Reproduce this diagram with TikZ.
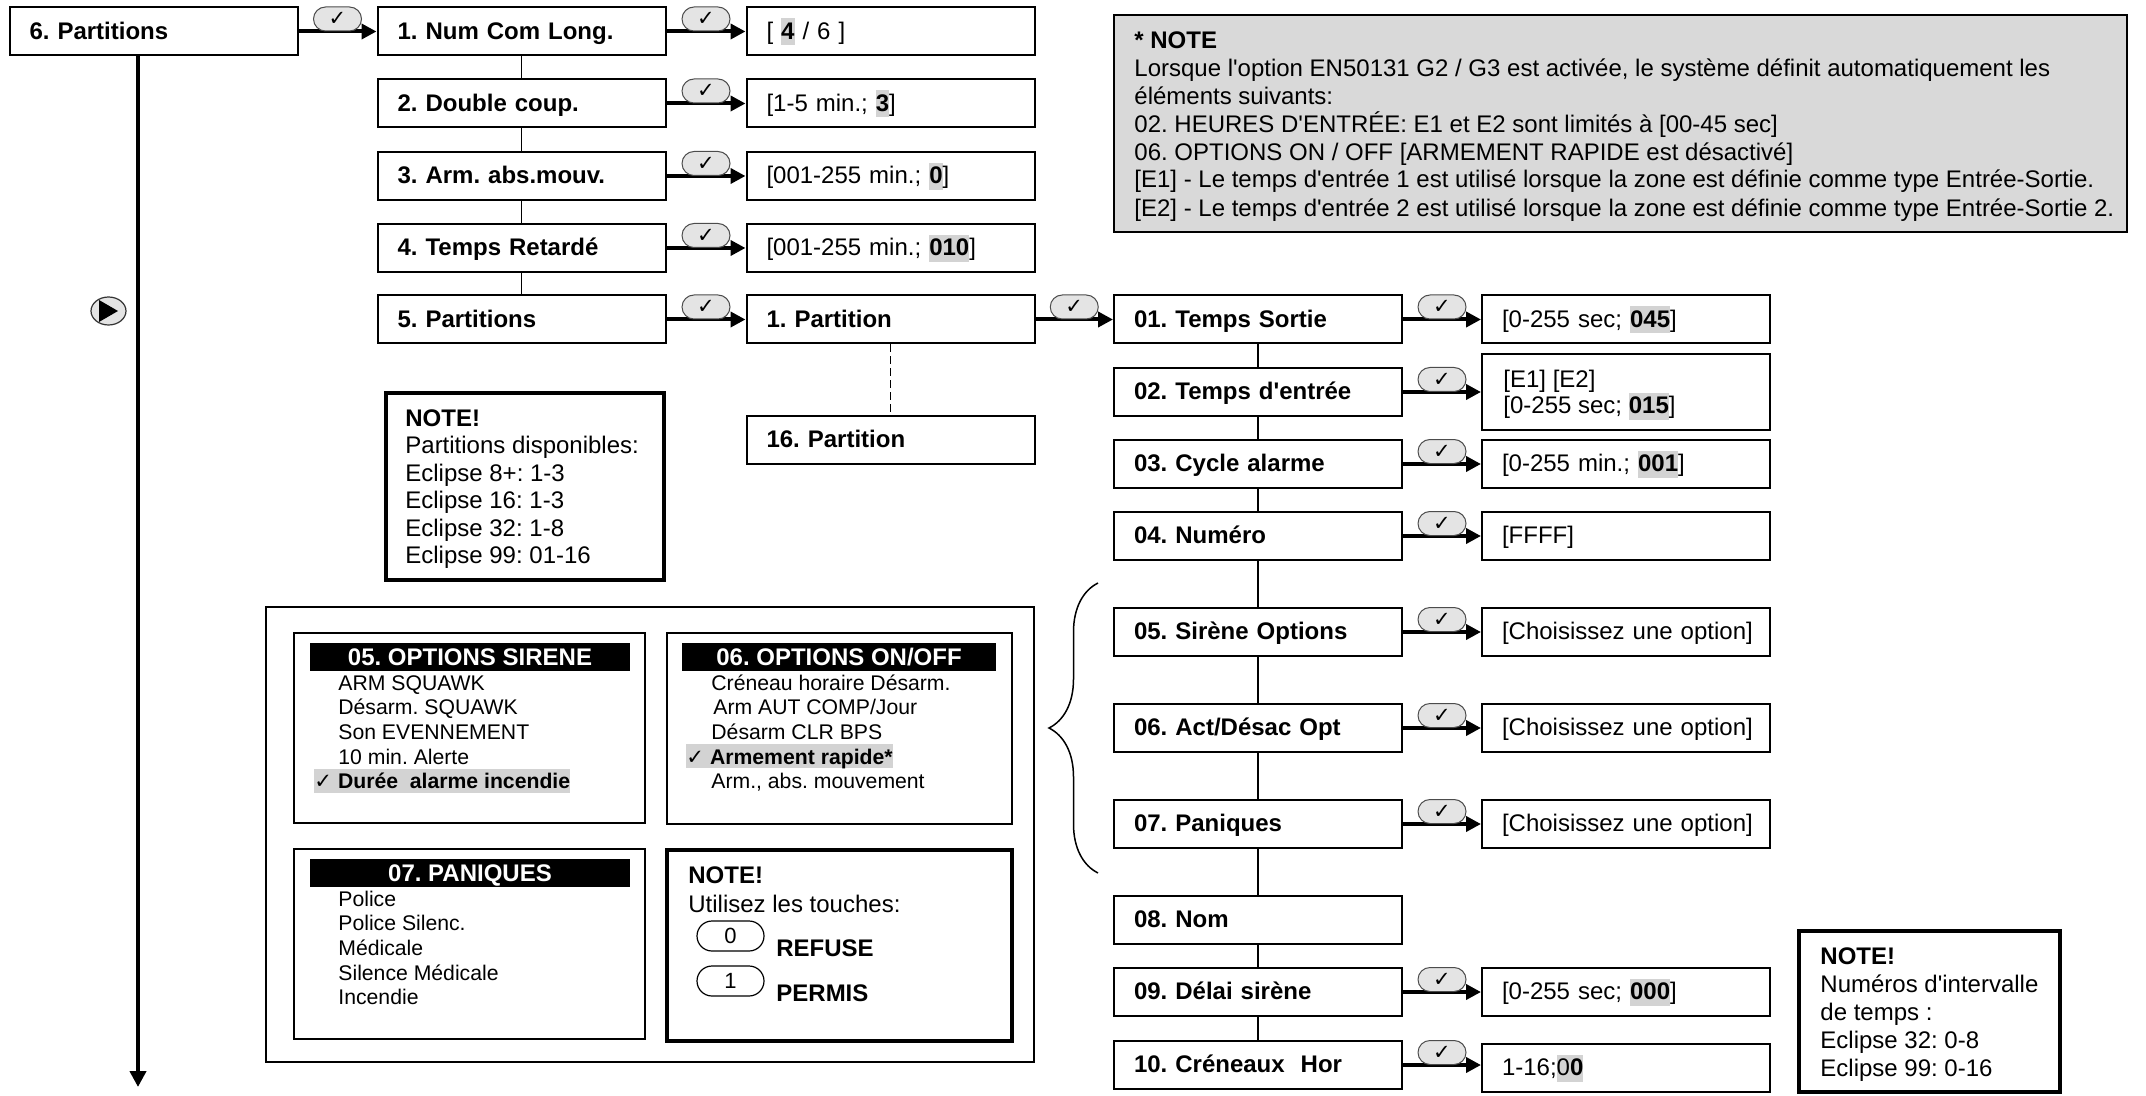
\documentclass[tikz,border=0pt]{standalone}
\usepackage{fontspec}
\setmainfont{Liberation Sans}
\newfontfamily\symfont{DejaVu Sans}
\usetikzlibrary{arrows.meta,shapes.geometric,decorations.pathreplacing}
\definecolor{hlgray}{HTML}{D3D3D3}
\definecolor{notegray}{HTML}{D9D9D9}
\definecolor{pill}{HTML}{E4E4E4}
\frenchspacing
\newcommand\txtL{\fontsize{12}{13.8}\selectfont}
\newcommand\txtS{\fontsize{10.6}{12.3}\selectfont}
\newcommand\chk{{\symfont ✓}}
\newcommand\apo{\textquotesingle}
\newcommand\hl[1]{{\setlength{\fboxsep}{0pt}\colorbox{hlgray}{\rule[-3pt]{0pt}{13.5pt}#1}}}
\tikzset{
  menu/.style={draw,line width=1pt,minimum width=144pt,minimum height=24pt,text width=124pt,inner xsep=10pt,inner ysep=0pt,align=left,text height=10pt,text depth=2.2pt,font=\txtL\bfseries},
  valbox/.style={menu,font=\txtL},
  okpill/.style={draw=black!70,line width=.5pt,fill=pill,rounded corners=6pt,minimum width=24pt,minimum height=12pt,inner sep=0pt,font=\fontsize{10.5}{10.5}\selectfont},
  okar/.style={draw,line width=2pt,-{Triangle[length=7.5pt,width=7.5pt]}},
  mainar/.style={draw,line width=2pt,-{Triangle[length=8pt,width=8pt]}},
  vline/.style={draw,line width=.75pt},
  dline/.style={vline,dash pattern=on 4pt off 2pt},
  panel/.style={draw,line width=1pt,inner sep=0pt},
  notebox/.style={draw,line width=2pt,inner sep=0pt},
  hbar/.style={fill=black,text=white,font=\txtL\bfseries,minimum width=160pt,minimum height=14pt,inner sep=0pt,text height=9pt,text depth=1pt},
  item/.style={anchor=base west,inner sep=0pt,font=\txtS},
  hlitem/.style={item,fill=hlgray,text height=10pt,text depth=2pt},
  ntxt/.style={anchor=base west,inner sep=0pt,font=\txtL},
  keycap/.style={draw,line width=.6pt,rounded corners=7.5pt,minimum width=33.5pt,minimum height=15pt,inner sep=0pt,font=\fontsize{11}{11}\selectfont},
  playbtn/.style={ellipse,draw=black!80,line width=.6pt,fill=pill,minimum width=17.5pt,minimum height=14pt,inner sep=0pt},
  brc/.style={decorate,decoration={brace,amplitude=24.5pt},line width=.75pt},
}
\begin{document}
\begin{tikzpicture}[x=0.5pt,y=-0.5pt]
\useasboundingbox (0,0) rectangle (2146,1096);
% first level
\node[menu] (a6) at (153.5,31.5) {6. Partitions};
\node[menu] (b1) at (521.5,31.5) {1. Num Com Long.};
\node[menu] (b2) at (521.5,103.5) {2. Double coup.};
\node[menu] (b3) at (521.5,176) {3. Arm. abs.mouv.};
\node[menu] (b4) at (521.5,248) {4. Temps Retardé};
\node[menu] (b5) at (521.5,319.5) {5. Partitions};
\node[valbox] (c1) at (890.5,31.5) {[ \hl{\textbf{4}} / 6 ]};
\node[valbox] (c2) at (890.5,103.5) {[1-5 min.; \hl{\textbf{3}}]};
\node[valbox] (c3) at (890.5,176) {[001-255 min.; \hl{\textbf{0}}]};
\node[valbox] (c4) at (890.5,248) {[001-255 min.; \hl{\textbf{010}}]};
\node[menu] (c5) at (890.5,319.5) {1. Partition};
\node[menu] (c16) at (890.5,440) {16. Partition};
% partition menu
\node[menu] (d01) at (1258,319.5) {01. Temps Sortie};
\node[menu] (d02) at (1258,392) {02. Temps d\apo entrée};
\node[menu] (d03) at (1258,464) {03. Cycle alarme};
\node[menu] (d04) at (1258,536) {04. Numéro};
\node[menu] (d05) at (1258,632) {05. Sirène Options};
\node[menu] (d06) at (1258,728) {06. Act/Désac Opt};
\node[menu] (d07) at (1258,824) {07. Paniques};
\node[menu] (d08) at (1258,920) {08. Nom};
\node[menu] (d09) at (1258,992) {09. Délai sirène};
\node[menu] (d10) at (1258,1065) {10. Créneaux\ \ Hor};
\node[valbox] (e01) at (1626,319.5) {[0-255 sec; \hl{\textbf{045}}]};
\node[valbox,minimum height=38pt] (e02) at (1626,392) {};
\node[ntxt] (e02a) at (1503,387) {[E1] [E2]};
\node[ntxt] (e02b) at (1503,414) {[0-255 sec; \hl{\textbf{015}}]};
\node[valbox] (e03) at (1626,464) {[0-255 min.; \hl{\textbf{001}}]};
\node[valbox] (e04) at (1626,536) {[FFFF]};
\node[valbox] (e05) at (1626,632) {\mbox{[Choisissez une option]}};
\node[valbox] (e06) at (1626,728) {\mbox{[Choisissez une option]}};
\node[valbox] (e07) at (1626,824) {\mbox{[Choisissez une option]}};
\node[valbox] (e09) at (1626,992) {[0-255 sec; \hl{\textbf{000}}]};
\node[valbox] (e10) at (1626,1068) {1-16;\hl{0\textbf{0}}};
% enter arrows
\draw[okar] (a6) -- node[okpill,above] (k0) {\chk} (b1);
\draw[okar] (b1) -- node[okpill,above] (k1) {\chk} (c1);
\draw[okar] (b2) -- node[okpill,above] (k2) {\chk} (c2);
\draw[okar] (b3) -- node[okpill,above] (k3) {\chk} (c3);
\draw[okar] (b4) -- node[okpill,above] (k4) {\chk} (c4);
\draw[okar] (b5) -- node[okpill,above] (k5) {\chk} (c5);
\draw[okar] (c5) -- node[okpill,above] (k6) {\chk} (d01);
\draw[okar] (d01) -- node[okpill,above] (k7) {\chk} (e01);
\draw[okar] (d02) -- node[okpill,above] (k8) {\chk} (e02);
\draw[okar] (d03) -- node[okpill,above] (k9) {\chk} (e03);
\draw[okar] (d04) -- node[okpill,above] (k10) {\chk} (e04);
\draw[okar] (d05) -- node[okpill,above] (k11) {\chk} (e05);
\draw[okar] (d06) -- node[okpill,above] (k12) {\chk} (e06);
\draw[okar] (d07) -- node[okpill,above] (k13) {\chk} (e07);
\draw[okar] (d09) -- node[okpill,above] (k14) {\chk} (e09);
\draw[okar] (d10.east) -- node[okpill,above] (k15) {\chk} (d10.east -| e10.west);
% menu links
\draw[vline] (b1) -- (b2); \draw[vline] (b2) -- (b3); \draw[vline] (b3) -- (b4); \draw[vline] (b4) -- (b5);
\draw[dline] (c5) -- (c16);
\draw[vline] (d01) -- (d02); \draw[vline] (d02) -- (d03); \draw[vline] (d03) -- (d04); \draw[vline] (d04) -- (d05);
\draw[vline] (d05) -- (d06); \draw[vline] (d06) -- (d07); \draw[vline] (d07) -- (d08); \draw[vline] (d08) -- (d09);
\draw[vline] (d09) -- (d10);
% scroll arrow
\coordinate (down) at (138,1087);
\draw[mainar] (a6.south -| down) -- (down);
\node[playbtn] (play) at (108.5,311) {};
\fill (play.center) ++(-9.5,-11) -- ++(19,11) -- ++(-19,11) -- cycle;
\draw[brc] (1098,873) -- (1098,583);
% notes
\node[draw,line width=1.2pt,fill=notegray,minimum width=506.5pt,minimum height=108.5pt,inner sep=0pt] (note2) at (1620.5,123.5) {};
\node[ntxt] (n2a) at (1134,49) {\textbf{* NOTE}};
\node[ntxt] (n2b) at (1134,77) {Lorsque l\apo option EN50131 G2 / G3 est activée, le système définit automatiquement les};
\node[ntxt] (n2c) at (1134,105) {éléments suivants:};
\node[ntxt] (n2d) at (1134,133) {02. HEURES D\apo ENTRÉE: E1 et E2 sont limités à [00-45 sec]};
\node[ntxt] (n2e) at (1134,161) {06. OPTIONS ON / OFF [ARMEMENT RAPIDE est désactivé]};
\node[ntxt] (n2f) at (1134,188) {[E1] - Le temps d\apo entrée 1 est utilisé lorsque la zone est définie comme type Entrée-Sortie.};
\node[ntxt] (n2g) at (1134,217) {[E2] - Le temps d\apo entrée 2 est utilisé lorsque la zone est définie comme type Entrée-Sortie 2.};
\node[notebox,minimum width=139pt,minimum height=93.5pt] (note1) at (525,486.5) {};
\node[ntxt] (n1a) at (405,426) {\textbf{NOTE!}};
\node[ntxt] (n1b) at (405,453.5) {Partitions disponibles:};
\node[ntxt] (n1c) at (405,481) {Eclipse 8+: 1-3};
\node[ntxt] (n1d) at (405,508.5) {Eclipse 16: 1-3};
\node[ntxt] (n1e) at (405,536) {Eclipse 32: 1-8};
\node[ntxt] (n1f) at (405,563.5) {Eclipse 99: 01-16};
\node[notebox,minimum width=130.5pt,minimum height=80.5pt] (note3) at (1929.5,1011.5) {};
\node[ntxt] (n3a) at (1820,964) {\textbf{NOTE!}};
\node[ntxt] (n3b) at (1820,992) {Numéros d\apo intervalle};
\node[ntxt] (n3c) at (1820,1020) {de temps :};
\node[ntxt] (n3d) at (1820,1048) {Eclipse 32: 0-8};
\node[ntxt] (n3e) at (1820,1076) {Eclipse 99: 0-16};
% option panels
\node[panel,minimum width=384pt,minimum height=227.5pt] (pbox) at (650,834.5) {};
\node[panel,minimum width=175.5pt,minimum height=95pt] (p05) at (469.5,728) {};
\node[panel,minimum width=172.5pt,minimum height=95.5pt] (p06) at (839.5,728.5) {};
\node[panel,minimum width=175.5pt,minimum height=95pt] (p07) at (469.5,944) {};
\node[notebox,minimum width=172.5pt,minimum height=95.5pt] (pnote) at (839.5,945.5) {};
\node[hbar] (h05) at (470,657) {05. OPTIONS SIRENE};
\node[hbar,minimum width=157pt] (h06) at (839,657) {06. OPTIONS ON/OFF};
\node[hbar] (h07) at (470,873) {07. PANIQUES};
\node[item] (i51) at (338,690) {ARM SQUAWK};
\node[item] (i52) at (338,714.7) {Désarm. SQUAWK};
\node[item] (i53) at (338,739.4) {Son EVENNEMENT};
\node[item] (i54) at (338,764.1) {10 min. Alerte};
\node[hlitem] (i55) at (314,788.8) {\chk\ \textbf{Durée\ \ alarme incendie}};
\node[item] (i61) at (711,690) {Créneau horaire Désarm.};
\node[item] (i62) at (713,714.7) {Arm AUT COMP/Jour};
\node[item] (i63) at (711,739.4) {Désarm CLR BPS};
\node[hlitem] (i64) at (686,764.1) {\chk\ \textbf{Armement rapide*}};
\node[item] (i65) at (711,788.8) {Arm., abs. mouvement};
\node[item] (i71) at (338,906) {Police};
\node[item] (i72) at (338,930.7) {Police Silenc.};
\node[item] (i73) at (338,955.4) {Médicale};
\node[item] (i74) at (338,980.1) {Silence Médicale};
\node[item] (i75) at (338,1004.8) {Incendie};
\node[ntxt] (t1) at (688,883) {\textbf{NOTE!}};
\node[ntxt] (t2) at (688,912) {Utilisez les touches:};
\node[keycap] (key0) at (730.5,936) {0};
\node[ntxt] (t3) at (776,956) {\textbf{REFUSE}};
\node[keycap] (key1) at (730.5,981) {1};
\node[ntxt] (t4) at (776,1001) {\textbf{PERMIS}};
\end{tikzpicture}
\end{document}
